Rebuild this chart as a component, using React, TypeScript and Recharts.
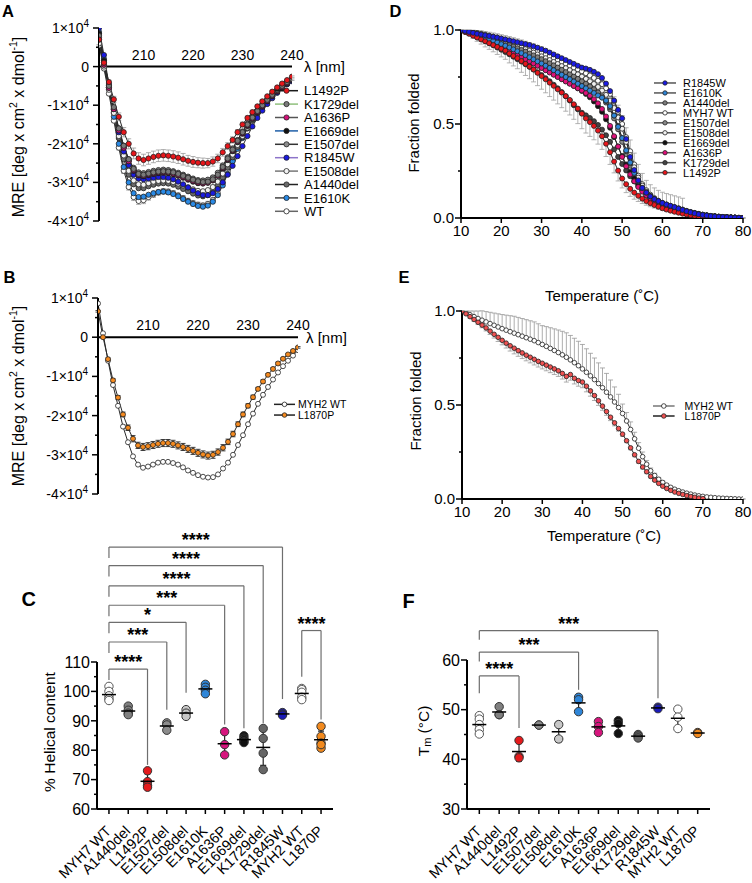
import React from "react";
import {
  LineChart,
  Line,
  XAxis,
  YAxis,
  ErrorBar,
  ReferenceLine,
  ReferenceDot,
  Legend,
  ScatterChart,
  Scatter,
} from "recharts";

const FONT = "'Liberation Sans', Arial, Helvetica, sans-serif";
const AXIS = { stroke: "#000", strokeWidth: 2 };

// x grids
const nmA = Array.from({ length: 40 }, (_, i) => 201 + i);
const nmB = Array.from({ length: 41 }, (_, i) => 200 + i);
const tempC = Array.from({ length: 71 }, (_, i) => 10 + i);

// ---------- A: CD spectra of MYH7 variants, MRE in units of 1e4
const cdL1492P = [
  0.7, 0.1, -0.4, -0.85, -1.3, -1.7, -2.0, -2.25, -2.38, -2.42,
  -2.38, -2.34, -2.31, -2.3, -2.31, -2.33, -2.36, -2.4, -2.44, -2.47,
  -2.49, -2.5, -2.5, -2.46, -2.38, -2.22, -2.06, -1.9, -1.7, -1.5,
  -1.33, -1.18, -1.03, -0.9, -0.77, -0.65, -0.54, -0.44, -0.35, -0.26,
];
const cdL1492PErr = [
  0, 0.02, 0.05, 0.08, 0.1, 0.12, 0.13, 0.14, 0.15, 0.15,
  0.15, 0.15, 0.15, 0.15, 0.15, 0.15, 0.15, 0.15, 0.14, 0.14,
  0.13, 0.13, 0.12, 0.12, 0.11, 0.1, 0.09, 0.08, 0.07, 0.06,
  0.05, 0.05, 0.04, 0.04, 0.03, 0.03, 0.03, 0.02, 0.02, 0.02,
];
const cdK1729del = [
  0.8, 0.1, -0.5, -1.05, -1.6, -2.05, -2.4, -2.65, -2.78, -2.8,
  -2.77, -2.74, -2.72, -2.71, -2.72, -2.74, -2.78, -2.83, -2.88, -2.93,
  -2.97, -2.99, -2.98, -2.92, -2.8, -2.6, -2.38, -2.15, -1.92, -1.7,
  -1.5, -1.32, -1.15, -1.0, -0.86, -0.73, -0.61, -0.5, -0.4, -0.32,
];
const cdA1636P = [
  0.75, 0.05, -0.55, -1.1, -1.65, -2.1, -2.45, -2.68, -2.8, -2.82,
  -2.79, -2.76, -2.74, -2.73, -2.74, -2.77, -2.81, -2.86, -2.91, -2.96,
  -3.0, -3.02, -3.0, -2.94, -2.82, -2.62, -2.4, -2.17, -1.94, -1.72,
  -1.52, -1.34, -1.17, -1.02, -0.88, -0.75, -0.63, -0.52, -0.42, -0.33,
];
const cdE1669del = [
  0.85, 0.15, -0.5, -1.1, -1.65, -2.1, -2.45, -2.7, -2.82, -2.84,
  -2.81, -2.78, -2.76, -2.75, -2.76, -2.79, -2.83, -2.88, -2.93, -2.98,
  -3.02, -3.03, -3.01, -2.95, -2.83, -2.64, -2.42, -2.19, -1.96, -1.74,
  -1.54, -1.36, -1.19, -1.04, -0.9, -0.77, -0.65, -0.54, -0.44, -0.35,
];
const cdE1507del = [
  0.7, 0.05, -0.55, -1.1, -1.6, -2.05, -2.4, -2.62, -2.74, -2.76,
  -2.73, -2.7, -2.68, -2.67, -2.68, -2.71, -2.75, -2.8, -2.85, -2.9,
  -2.94, -2.95, -2.93, -2.87, -2.75, -2.56, -2.35, -2.12, -1.9, -1.68,
  -1.48, -1.3, -1.14, -0.99, -0.85, -0.72, -0.6, -0.49, -0.39, -0.3,
];
const cdR1845W = [
  1.0, 0.3, -0.45, -1.1, -1.7, -2.2, -2.55, -2.8, -2.9, -2.92,
  -2.9, -2.88, -2.86, -2.86, -2.88, -2.92, -2.98, -3.05, -3.13, -3.21,
  -3.28, -3.33, -3.33, -3.28, -3.17, -3.0, -2.8, -2.57, -2.32, -2.06,
  -1.8, -1.55, -1.33, -1.14, -0.97, -0.82, -0.68, -0.56, -0.46, -0.38,
];
const cdE1508del = [
  0.6, 0.0, -0.6, -1.2, -1.8, -2.3, -2.7, -2.95, -3.05, -3.06,
  -3.02, -2.98, -2.96, -2.95, -2.96, -2.99, -3.03, -3.08, -3.13, -3.18,
  -3.22, -3.23, -3.2, -3.12, -2.98, -2.77, -2.53, -2.28, -2.03, -1.8,
  -1.58, -1.38, -1.2, -1.04, -0.9, -0.77, -0.65, -0.54, -0.44, -0.35,
];
const cdA1440del = [
  0.85, 0.15, -0.55, -1.2, -1.85, -2.4, -2.8, -3.05, -3.15, -3.15,
  -3.1, -3.06, -3.03, -3.02, -3.03, -3.06, -3.11, -3.17, -3.23, -3.29,
  -3.34, -3.36, -3.33, -3.25, -3.1, -2.88, -2.62, -2.35, -2.08, -1.83,
  -1.6, -1.4, -1.22, -1.06, -0.91, -0.78, -0.66, -0.55, -0.45, -0.36,
];
const cdE1610K = [
  0.9, 0.2, -0.55, -1.3, -2.0, -2.6, -3.0, -3.28, -3.38, -3.37,
  -3.32, -3.28, -3.25, -3.24, -3.26, -3.3, -3.36, -3.43, -3.5, -3.56,
  -3.61, -3.63, -3.6, -3.5, -3.33, -3.08, -2.78, -2.45, -2.13, -1.85,
  -1.6, -1.38, -1.19, -1.03, -0.88, -0.75, -0.63, -0.52, -0.43, -0.35,
];
const cdWT = [
  0.55, -0.05, -0.7, -1.4, -2.1, -2.7, -3.12, -3.38, -3.48, -3.46,
  -3.38, -3.31, -3.26, -3.23, -3.24, -3.28, -3.34, -3.41, -3.48, -3.54,
  -3.58, -3.6, -3.56, -3.46, -3.28, -3.02, -2.72, -2.4, -2.08, -1.8,
  -1.56, -1.35, -1.17, -1.01, -0.87, -0.74, -0.62, -0.51, -0.42, -0.34,
];
const cdWTErr = [
  0.02, 0.03, 0.04, 0.05, 0.06, 0.07, 0.08, 0.09, 0.09, 0.09,
  0.08, 0.08, 0.07, 0.07, 0.07, 0.07, 0.07, 0.07, 0.07, 0.07,
  0.07, 0.07, 0.07, 0.07, 0.06, 0.06, 0.06, 0.05, 0.05, 0.05,
  0.04, 0.04, 0.04, 0.03, 0.03, 0.03, 0.03, 0.02, 0.02, 0.02,
];

// ---------- B: CD spectra of MYH2
const cdMYH2WT = [
  0.86, 0.1, -0.6, -1.22, -1.75, -2.28, -2.68, -3.04, -3.25, -3.33,
  -3.3, -3.25, -3.2, -3.18, -3.18, -3.21, -3.25, -3.32, -3.4, -3.46,
  -3.52, -3.56, -3.58, -3.57, -3.5, -3.35, -3.2, -3.0, -2.75, -2.5,
  -2.22, -1.95, -1.7, -1.47, -1.27, -1.08, -0.9, -0.74, -0.6, -0.47,
  -0.33,
];
const cdL1870P = [
  0.66, 0.0, -0.56, -1.1, -1.54, -1.97, -2.31, -2.59, -2.76, -2.8,
  -2.78, -2.75, -2.72, -2.7, -2.7, -2.72, -2.76, -2.8, -2.85, -2.9,
  -2.95, -2.99, -3.02, -3.0, -2.93, -2.82, -2.67, -2.47, -2.22, -1.97,
  -1.75, -1.53, -1.32, -1.13, -0.96, -0.81, -0.67, -0.55, -0.44, -0.35,
  -0.26,
];
const cdL1870PErr = [
  0.02, 0.02, 0.03, 0.04, 0.05, 0.06, 0.07, 0.08, 0.08, 0.09,
  0.09, 0.09, 0.09, 0.09, 0.09, 0.09, 0.09, 0.09, 0.09, 0.09,
  0.09, 0.09, 0.09, 0.09, 0.08, 0.08, 0.07, 0.07, 0.06, 0.06,
  0.05, 0.05, 0.04, 0.04, 0.03, 0.03, 0.03, 0.02, 0.02, 0.02,
  0.02,
];

// ---------- D: thermal unfolding, MYH7 variants (fraction folded)
const meltR1845W = [
  1.0, 0.995, 0.99, 0.985, 0.98, 0.976, 0.972, 0.968, 0.964, 0.96,
  0.955, 0.95, 0.945, 0.94, 0.935, 0.93, 0.925, 0.92, 0.913, 0.906,
  0.898, 0.89, 0.88, 0.87, 0.86, 0.85, 0.84, 0.83, 0.82, 0.81,
  0.8, 0.795, 0.788, 0.778, 0.765, 0.745, 0.715, 0.675, 0.625, 0.575,
  0.53, 0.42, 0.325, 0.255, 0.2, 0.16, 0.135, 0.115, 0.1, 0.09,
  0.08, 0.072, 0.065, 0.058, 0.05, 0.043, 0.036, 0.03, 0.025, 0.02,
  0.016, 0.013, 0.01, 0.008, 0.006, 0.005, 0.004, 0.003, 0.002, 0.001,
  0.0,
];
const meltE1610K = [
  1.0, 0.993, 0.986, 0.979, 0.972, 0.965, 0.958, 0.95, 0.942, 0.934,
  0.925, 0.916, 0.907, 0.897, 0.887, 0.877, 0.866, 0.855, 0.844, 0.833,
  0.822, 0.81, 0.798, 0.786, 0.774, 0.762, 0.75, 0.738, 0.726, 0.714,
  0.702, 0.69, 0.678, 0.665, 0.652, 0.64, 0.625, 0.595, 0.545, 0.485,
  0.425, 0.36, 0.295, 0.24, 0.195, 0.16, 0.135, 0.115, 0.1, 0.088,
  0.078, 0.069, 0.061, 0.054, 0.047, 0.041, 0.035, 0.03, 0.025, 0.021,
  0.017, 0.014, 0.011, 0.009, 0.007, 0.005, 0.004, 0.003, 0.002, 0.001,
  0.0,
];
const meltA1440del = [
  1.0, 0.995, 0.99, 0.984, 0.978, 0.972, 0.965, 0.958, 0.951, 0.944,
  0.936, 0.928, 0.92, 0.912, 0.903, 0.894, 0.885, 0.875, 0.865, 0.855,
  0.845, 0.834, 0.823, 0.812, 0.8, 0.788, 0.776, 0.764, 0.752, 0.74,
  0.727, 0.714, 0.7, 0.685, 0.668, 0.648, 0.622, 0.588, 0.545, 0.49,
  0.425, 0.355, 0.29, 0.235, 0.19, 0.155, 0.128, 0.107, 0.091, 0.078,
  0.068, 0.06, 0.053, 0.047, 0.041, 0.036, 0.031, 0.027, 0.023, 0.019,
  0.016, 0.013, 0.01, 0.008, 0.006, 0.005, 0.004, 0.003, 0.002, 0.001,
  0.0,
];
const meltMYH7WT = [
  1.0, 0.997, 0.993, 0.989, 0.985, 0.98, 0.975, 0.97, 0.965, 0.96,
  0.954, 0.948, 0.942, 0.935, 0.928, 0.921, 0.913, 0.905, 0.897, 0.888,
  0.879, 0.87, 0.86, 0.85, 0.84, 0.83, 0.82, 0.81, 0.8, 0.79,
  0.78, 0.77, 0.758, 0.745, 0.73, 0.712, 0.69, 0.66, 0.62, 0.565,
  0.5, 0.43, 0.355, 0.285, 0.225, 0.18, 0.148, 0.124, 0.106, 0.092,
  0.081, 0.072, 0.064, 0.057, 0.05, 0.044, 0.038, 0.032, 0.027, 0.022,
  0.018, 0.014, 0.011, 0.009, 0.007, 0.005, 0.004, 0.003, 0.002, 0.001,
  0.0,
];
const meltE1507del = [
  1.0, 0.994, 0.988, 0.982, 0.975, 0.968, 0.961, 0.954, 0.946, 0.938,
  0.93, 0.922, 0.913, 0.904, 0.895, 0.885, 0.875, 0.865, 0.855, 0.844,
  0.833, 0.822, 0.811, 0.8, 0.789, 0.778, 0.767, 0.756, 0.745, 0.734,
  0.722, 0.71, 0.697, 0.682, 0.664, 0.642, 0.614, 0.578, 0.53, 0.472,
  0.405, 0.34, 0.278, 0.225, 0.182, 0.148, 0.122, 0.102, 0.087, 0.075,
  0.066, 0.058, 0.051, 0.045, 0.04, 0.035, 0.03, 0.026, 0.022, 0.018,
  0.015, 0.012, 0.01, 0.008, 0.006, 0.004, 0.003, 0.002, 0.001, 0.001,
  0.0,
];
const meltE1508del = [
  1.0, 0.996, 0.991, 0.986, 0.981, 0.976, 0.97, 0.964, 0.958, 0.952,
  0.945, 0.938, 0.931, 0.923, 0.915, 0.907, 0.898, 0.889, 0.88, 0.87,
  0.86, 0.85, 0.84, 0.83, 0.819, 0.808, 0.797, 0.786, 0.775, 0.764,
  0.752, 0.74, 0.727, 0.713, 0.697, 0.678, 0.655, 0.625, 0.585, 0.535,
  0.475, 0.405, 0.335, 0.27, 0.215, 0.172, 0.14, 0.117, 0.1, 0.087,
  0.077, 0.07, 0.064, 0.058, 0.052, 0.045, 0.036, 0.03, 0.025, 0.02,
  0.016, 0.013, 0.01, 0.008, 0.006, 0.005, 0.004, 0.003, 0.002, 0.001,
  0.0,
];
const meltE1508delErr = [
  0, 0.005, 0.01, 0.013, 0.016, 0.02, 0.022, 0.024, 0.026, 0.028,
  0.03, 0.032, 0.034, 0.036, 0.038, 0.04, 0.042, 0.044, 0.046, 0.048,
  0.05, 0.05, 0.05, 0.05, 0.05, 0.05, 0.05, 0.05, 0.05, 0.05,
  0.05, 0.05, 0.05, 0.05, 0.05, 0.05, 0.05, 0.055, 0.06, 0.065,
  0.07, 0.075, 0.08, 0.075, 0.07, 0.065, 0.06, 0.06, 0.06, 0.06,
  0.06, 0.06, 0.06, 0.06, 0.06, 0.06, 0.01, 0.008, 0.006, 0.005,
  0.004, 0.003, 0.002, 0.001, 0, 0, 0, 0, 0, 0,
  0,
];
const meltE1669del = [
  1.0, 0.993, 0.985, 0.977, 0.969, 0.96, 0.951, 0.942, 0.932, 0.922,
  0.912, 0.902, 0.891, 0.88, 0.869, 0.858, 0.847, 0.836, 0.824, 0.812,
  0.8, 0.788, 0.776, 0.764, 0.752, 0.74, 0.728, 0.716, 0.703, 0.69,
  0.676, 0.66, 0.642, 0.62, 0.595, 0.565, 0.525, 0.48, 0.43, 0.38,
  0.33, 0.285, 0.245, 0.21, 0.18, 0.155, 0.134, 0.116, 0.101, 0.088,
  0.077, 0.068, 0.06, 0.053, 0.047, 0.041, 0.035, 0.03, 0.025, 0.021,
  0.017, 0.014, 0.011, 0.009, 0.007, 0.005, 0.004, 0.003, 0.002, 0.001,
  0.0,
];
const meltA1636P = [
  1.0, 0.992, 0.984, 0.976, 0.968, 0.959, 0.95, 0.94, 0.93, 0.92,
  0.91, 0.9, 0.889, 0.878, 0.867, 0.856, 0.845, 0.834, 0.822, 0.81,
  0.798, 0.786, 0.774, 0.762, 0.75, 0.738, 0.726, 0.714, 0.702, 0.69,
  0.678, 0.665, 0.65, 0.632, 0.61, 0.58, 0.54, 0.49, 0.435, 0.38,
  0.325, 0.275, 0.232, 0.195, 0.165, 0.14, 0.12, 0.103, 0.089, 0.077,
  0.067, 0.058, 0.05, 0.043, 0.037, 0.031, 0.026, 0.022, 0.018, 0.015,
  0.012, 0.01, 0.008, 0.006, 0.005, 0.004, 0.003, 0.002, 0.001, 0.0,
  0.0,
];
const meltK1729del = [
  1.0, 0.991, 0.982, 0.972, 0.962, 0.952, 0.941, 0.93, 0.919, 0.907,
  0.895, 0.883, 0.871, 0.858, 0.845, 0.832, 0.818, 0.804, 0.79, 0.775,
  0.76, 0.744, 0.727, 0.709, 0.69, 0.67, 0.648, 0.625, 0.6, 0.578,
  0.56, 0.546, 0.532, 0.515, 0.495, 0.47, 0.44, 0.405, 0.365, 0.325,
  0.287, 0.253, 0.222, 0.195, 0.17, 0.148, 0.129, 0.112, 0.097, 0.084,
  0.073, 0.063, 0.055, 0.048, 0.042, 0.036, 0.031, 0.026, 0.022, 0.018,
  0.015, 0.012, 0.009, 0.007, 0.005, 0.004, 0.003, 0.002, 0.001, 0.0,
  0.0,
];
const meltL1492P = [
  1.0, 0.99, 0.98, 0.97, 0.96, 0.95, 0.94, 0.93, 0.92, 0.91,
  0.9, 0.89, 0.875, 0.862, 0.85, 0.835, 0.82, 0.805, 0.79, 0.772,
  0.755, 0.738, 0.72, 0.703, 0.685, 0.667, 0.648, 0.628, 0.605, 0.582,
  0.555, 0.53, 0.51, 0.49, 0.465, 0.435, 0.395, 0.35, 0.3, 0.252,
  0.21, 0.18, 0.155, 0.135, 0.118, 0.103, 0.09, 0.079, 0.069, 0.06,
  0.052, 0.045, 0.039, 0.033, 0.028, 0.023, 0.019, 0.015, 0.012, 0.009,
  0.007, 0.005, 0.004, 0.003, 0.002, 0.001, 0.0, 0.0, 0.0, 0.0,
  0.0,
];
const meltL1492PErr = [
  0, 0.005, 0.01, 0.015, 0.02, 0.025, 0.03, 0.033, 0.036, 0.04,
  0.043, 0.046, 0.05, 0.053, 0.056, 0.06, 0.062, 0.064, 0.066, 0.068,
  0.07, 0.072, 0.074, 0.076, 0.078, 0.08, 0.08, 0.08, 0.08, 0.08,
  0.08, 0.078, 0.076, 0.074, 0.072, 0.07, 0.068, 0.065, 0.06, 0.055,
  0.05, 0.045, 0.04, 0.035, 0.03, 0.026, 0.022, 0.019, 0.016, 0.013,
  0.011, 0.009, 0.007, 0.006, 0.005, 0.004, 0.003, 0.002, 0.002, 0.001,
  0.001, 0, 0, 0, 0, 0, 0, 0, 0, 0,
  0,
];

// ---------- E: thermal unfolding, MYH2
const meltMYH2WT = [
  1.0, 0.99, 0.98, 0.97, 0.96, 0.951, 0.942, 0.933, 0.924, 0.915,
  0.906, 0.898, 0.89, 0.882, 0.874, 0.866, 0.858, 0.85, 0.842, 0.832,
  0.822, 0.812, 0.801, 0.79, 0.779, 0.767, 0.754, 0.74, 0.725, 0.709,
  0.692, 0.674, 0.655, 0.635, 0.614, 0.592, 0.568, 0.543, 0.516, 0.487,
  0.455, 0.415, 0.37, 0.32, 0.27, 0.225, 0.185, 0.15, 0.125, 0.105,
  0.088, 0.074, 0.062, 0.052, 0.044, 0.037, 0.031, 0.026, 0.021, 0.017,
  0.014, 0.011, 0.009, 0.007, 0.005, 0.004, 0.003, 0.002, 0.001, 0.0,
  0.0,
];
const meltMYH2WTErr = [
  0, 0.01, 0.02, 0.03, 0.04, 0.05, 0.055, 0.06, 0.065, 0.07,
  0.075, 0.08, 0.085, 0.09, 0.092, 0.094, 0.096, 0.098, 0.1, 0.1,
  0.1, 0.105, 0.11, 0.115, 0.12, 0.125, 0.13, 0.13, 0.13, 0.13,
  0.13, 0.125, 0.12, 0.115, 0.11, 0.105, 0.1, 0.09, 0.08, 0.07,
  0.05, 0.045, 0.04, 0.035, 0.03, 0.025, 0.02, 0.015, 0.012, 0.01,
  0.008, 0.006, 0.005, 0.004, 0.003, 0.002, 0.002, 0.001, 0.001, 0,
  0, 0, 0, 0, 0, 0, 0, 0, 0, 0,
  0,
];
const meltL1870P = [
  1.0, 0.985, 0.97, 0.955, 0.94, 0.925, 0.91, 0.893, 0.876, 0.86,
  0.844, 0.829, 0.815, 0.802, 0.789, 0.777, 0.765, 0.754, 0.743, 0.732,
  0.722, 0.712, 0.702, 0.692, 0.682, 0.668, 0.652, 0.662, 0.642, 0.63,
  0.622, 0.6, 0.575, 0.55, 0.522, 0.494, 0.465, 0.435, 0.405, 0.375,
  0.345, 0.31, 0.272, 0.235, 0.2, 0.17, 0.145, 0.12, 0.1, 0.083,
  0.068, 0.056, 0.046, 0.037, 0.03, 0.024, 0.018, 0.013, 0.009, 0.005,
  0.002, null, null, null, null, null, null, null, null, null,
  null,
];
const meltL1870PErr = [
  0, 0.005, 0.008, 0.01, 0.012, 0.014, 0.016, 0.018, 0.02, 0.022,
  0.024, 0.026, 0.028, 0.03, 0.03, 0.03, 0.03, 0.03, 0.03, 0.03,
  0.03, 0.03, 0.03, 0.03, 0.03, 0.03, 0.03, 0.03, 0.03, 0.03,
  0.03, 0.03, 0.028, 0.026, 0.024, 0.022, 0.02, 0.018, 0.016, 0.014,
  0.012, 0.01, 0.01, 0.01, 0.01, 0.01, 0.01, 0.008, 0.006, 0.005,
  0.004, 0.003, 0.002, 0.002, 0.001, 0.001, 0, 0, 0, 0,
  0, null, null, null, null, null, null, null, null, null,
  null,
];

// ---------- C / F: per-replicate helical content and Tm
const variantNames = [
  "MYH7 WT", "A1440del", "L1492P", "E1507del", "E1508del", "E1610K",
  "A1636P", "E1669del", "K1729del", "R1845W", "MYH2 WT", "L1870P",
];
const helicalContent = [
  [101.7, 100.0, 98.5, 97.5, 96.9],
  [95.0, 93.6, 92.6, 92.1],
  [73.0, 69.3, 68.0, 67.4],
  [89.3, 88.6, 86.8],
  [93.8, 92.6, 91.5],
  [102.4, 101.4, 100.4, 99.2],
  [86.3, 81.9, 78.4],
  [84.9, 84.1, 83.5, 82.9, 82.6],
  [87.4, 84.0, 79.0, 73.4],
  [92.8, 92.3, 91.9],
  [101.0, 100.6, 99.7, 98.0, 97.2],
  [88.1, 84.7, 82.4, 80.7, 81.9],
];
const meltingTemp = [
  [48.8, 48.1, 47.0, 46.0, 45.1],
  [50.6, 49.0, 49.0],
  [43.8, 40.6, 40.3],
  [46.9, 46.9],
  [47.0, 44.1],
  [52.5, 52.0, 49.6],
  [47.6, 46.6, 45.4],
  [47.8, 47.2, 45.2],
  [45.0, 44.7, 44.3],
  [50.5, 50.2],
  [50.1, 48.5, 46.2],
  [45.4, 45.2],
];
// significance brackets (data units)
const helicalBrackets = [
  { from: 0, to: 2, y: 107.6, left: 103.9, right: 75.0, stars: "****" },
  { from: 0, to: 3, y: 116.8, left: 113.1, right: 93.8, stars: "***" },
  { from: 0, to: 4, y: 123.5, left: 119.8, right: 99.5, stars: "*" },
  { from: 0, to: 6, y: 129.3, left: 125.6, right: 88.7, stars: "***" },
  { from: 0, to: 7, y: 135.9, left: 132.2, right: 87.5, stars: "****" },
  { from: 0, to: 8, y: 142.8, left: 139.1, right: 89.2, stars: "****" },
  { from: 0, to: 9, y: 149.1, left: 145.4, right: 97.4, stars: "****" },
  { from: 10, to: 11, y: 120.7, left: 105.0, right: 90.4, stars: "****" },
];
const tmBrackets = [
  { from: 0, to: 2, y: 56.8, left: 53.3, right: 46.3, stars: "****" },
  { from: 0, to: 5, y: 61.6, left: 59.7, right: 54.0, stars: "***" },
  { from: 0, to: 9, y: 65.9, left: 64.1, right: 52.3, stars: "***" },
];

const mreTicks = [-4, -3.5, -3, -2.5, -2, -1.5, -1, -0.5, 0, 0.5, 1];
const nmTicks = [210, 220, 230, 240];
const fracTicks = [0, 0.25, 0.5, 0.75, 1];
const tempTicks = [10, 20, 30, 40, 50, 60, 70, 80];
const helicalTicks = [60, 65, 70, 75, 80, 85, 90, 95, 100, 105, 110];
const tmTicks = [30, 35, 40, 45, 50, 55, 60];
const variantIdx = variantNames.map((_, i) => i);

// styles
const seriesA = [
  { id: "L1492P", values: cdL1492P, err: cdL1492PErr, fill: "#e8161b", line: "#1a1a1a" },
  { id: "K1729del", values: cdK1729del, fill: "#7a7a7a", line: "#8fc07c" },
  { id: "A1636P", values: cdA1636P, fill: "#d4127a", line: "#555" },
  { id: "E1669del", values: cdE1669del, fill: "#111", line: "#1f5fa8" },
  { id: "E1507del", values: cdE1507del, fill: "#8c8c8c", line: "#333" },
  { id: "R1845W", values: cdR1845W, fill: "#1a1ae0", line: "#8d74c9" },
  { id: "E1508del", values: cdE1508del, fill: "#f2f2f2", line: "#777" },
  { id: "A1440del", values: cdA1440del, fill: "#6a6a6a", line: "#222" },
  { id: "E1610K", values: cdE1610K, fill: "#2a8ae6", line: "#444" },
  { id: "WT", values: cdWT, err: cdWTErr, fill: "#ffffff", line: "#666" },
];
const seriesB = [
  { id: "MYH2WT", label: "MYH2 WT", values: cdMYH2WT, fill: "#ffffff", line: "#222" },
  { id: "L1870P", values: cdL1870P, err: cdL1870PErr, fill: "#f58a1f", line: "#222" },
];
const seriesD = [
  { id: "R1845W", values: meltR1845W, fill: "#1a1ae6", line: "#222" },
  { id: "E1610K", values: meltE1610K, fill: "#2f86d8", line: "#222" },
  { id: "A1440del", values: meltA1440del, fill: "#7d7d7d", line: "#222" },
  { id: "MYH7WT", label: "MYH7 WT", values: meltMYH7WT, fill: "#ffffff", line: "#222" },
  { id: "E1507del", values: meltE1507del, fill: "#8a8a8a", line: "#222" },
  { id: "E1508del", values: meltE1508del, err: meltE1508delErr, errDir: "up", fill: "#f0f0f0", line: "#222" },
  { id: "E1669del", values: meltE1669del, fill: "#111", line: "#222" },
  { id: "A1636P", values: meltA1636P, fill: "#e0107a", line: "#222" },
  { id: "K1729del", values: meltK1729del, fill: "#444", line: "#222" },
  { id: "L1492P", values: meltL1492P, err: meltL1492PErr, errDir: "down", fill: "#e8161b", line: "#222" },
];
const drawOrderD = ["MYH7WT", "E1507del", "E1508del", "A1440del", "K1729del", "E1669del", "A1636P", "E1610K", "L1492P", "R1845W"];
const seriesE = [
  { id: "MYH2WT", label: "MYH2 WT", values: meltMYH2WT, err: meltMYH2WTErr, errDir: "up", fill: "#ffffff", line: "#777" },
  { id: "L1870P", values: meltL1870P, err: meltL1870PErr, errDir: "down", fill: "#f05252", line: "#222" },
];
const variantFill = [
  "#ffffff", "#808080", "#e41a1c", "#8c8c8c", "#c8c8c8", "#2f86d8",
  "#d6157d", "#111111", "#666666", "#1a1ab8", "#ffffff", "#f28a1e",
];

function buildRows(xKey: string, xs: number[], series: any[]) {
  return xs.map((x, i) => {
    const row: any = { [xKey]: x };
    series.forEach((s) => {
      row[s.id] = s.values[i];
      if (s.err) {
        const e = s.err[i];
        row[s.id + "Err"] = e == null ? null : s.errDir === "up" ? [0, e] : s.errDir === "down" ? [e, 0] : e;
      }
    });
    return row;
  });
}

const rowsA = buildRows("nm", nmA, seriesA);
const rowsB = buildRows("nm", nmB, seriesB);
const rowsD = buildRows("t", tempC, seriesD);
const rowsE = buildRows("t", tempC, seriesE);

function meanSd(vals: number[]) {
  const m = vals.reduce((a, b) => a + b, 0) / vals.length;
  const sd = vals.length > 1 ? Math.sqrt(vals.reduce((a, b) => a + (b - m) ** 2, 0) / (vals.length - 1)) : 0;
  return { m, sd };
}

// ---------- ticks
function MreTick({ x, y, payload }: any) {
  const v = payload.value;
  const major = Number.isInteger(v);
  return (
    <g>
      <line x1={x - (major ? 6 : 3)} x2={x} y1={y} y2={y} stroke="#000" strokeWidth={1.5} />
      {major && (
        <text x={x - 10} y={y} dy="0.36em" textAnchor="end" fontSize={14} fontFamily={FONT} fill="#000">
          {v === 0 ? "0" : (
            <>
              {`${v}×10`}
              <tspan dy={-6} fontSize={10}>4</tspan>
            </>
          )}
        </text>
      )}
    </g>
  );
}

function FractionTick({ x, y, payload }: any) {
  const v = payload.value;
  const major = Math.abs(v * 2 - Math.round(v * 2)) < 1e-6;
  return (
    <g>
      <line x1={x - (major ? 6 : 3)} x2={x} y1={y} y2={y} stroke="#000" strokeWidth={1.5} />
      {major && (
        <text x={x - 7} y={y} dy="0.36em" textAnchor="end" fontSize={15} fontFamily={FONT} fill="#000">
          {v.toFixed(1)}
        </text>
      )}
    </g>
  );
}

function ScaleTick({ x, y, payload }: any) {
  const v = payload.value;
  const major = v % 10 === 0;
  return (
    <g>
      <line x1={x - (major ? 6 : 3)} x2={x} y1={y} y2={y} stroke="#000" strokeWidth={1.5} />
      {major && (
        <text x={x - 7} y={y} dy="0.36em" textAnchor="end" fontSize={16} fontFamily={FONT} fill="#000">
          {v}
        </text>
      )}
    </g>
  );
}

function VariantTick({ x, y, payload }: any) {
  const name = variantNames[payload.value];
  const ax = x + 3;
  const ay = y + 23;
  return (
    <g>
      <line x1={x} x2={x} y1={y} y2={y + 5} stroke="#000" strokeWidth={1.5} />
      <text x={ax} y={ay} textAnchor="end" transform={`rotate(-45 ${ax} ${ay})`} fontSize={14.5} fontFamily={FONT} fill="#000">
        {name}
      </text>
    </g>
  );
}

function SeriesKey({ items, rowH, lineW, gap, fontSize, r, lineStroke }: any) {
  const h = items.length * rowH + 2;
  return (
    <svg width={100} height={h} style={{ display: "block", overflow: "visible" }}>
      {items.map((s: any, i: number) => {
        const cy = i * rowH + rowH / 2;
        return (
          <g key={s.id}>
            <line x1={0} x2={lineW} y1={cy} y2={cy} stroke={lineStroke || s.line} strokeWidth={1.5} />
            <circle cx={lineW / 2} cy={cy} r={r} fill={s.fill} stroke="#222" strokeWidth={0.8} />
            <text x={lineW + gap} y={cy} dy="0.36em" fontSize={fontSize} fontFamily={FONT} fill="#000">
              {s.label || s.id}
            </text>
          </g>
        );
      })}
    </svg>
  );
}

function seriesLine(s: any, r: number, errColor: string) {
  return (
    <Line
      key={s.id}
      dataKey={s.id}
      type="linear"
      stroke="#2a2a2a"
      strokeWidth={1}
      dot={{ r, fill: s.fill, stroke: "#222", strokeWidth: 0.8 }}
      activeDot={false}
      isAnimationActive={false}
      connectNulls={false}
    >
      {s.err ? <ErrorBar dataKey={s.id + "Err"} direction="y" width={2.5} stroke={errColor} strokeWidth={0.8} /> : null}
    </Line>
  );
}

function bracketLines(list: any[], prefix: string) {
  const style = { stroke: "#6e6e6e", strokeWidth: 1.2, ifOverflow: "visible" as const };
  return list.flatMap((b, i) => [
    <ReferenceLine key={`${prefix}l${i}`} segment={[{ x: b.from, y: b.left }, { x: b.from, y: b.y }]} {...style} />,
    <ReferenceLine
      key={`${prefix}h${i}`}
      segment={[{ x: b.from, y: b.y }, { x: b.to, y: b.y }]}
      {...style}
      label={{ value: b.stars, position: "top", offset: 1, fontSize: 18, fontWeight: "bold", fill: "#000", fontFamily: FONT }}
    />,
    <ReferenceLine key={`${prefix}r${i}`} segment={[{ x: b.to, y: b.y }, { x: b.to, y: b.right }]} {...style} />,
  ]);
}

function MeanBar(p: any) {
  return <line x1={p.cx - 7} x2={p.cx + 7} y1={p.cy} y2={p.cy} stroke="#000" strokeWidth={1.5} />;
}

function DotPlot({ values, brackets, domain, ticks, prefix, width, height, margin, yWidth }: any) {
  const means = values.map((v: number[], i: number) => {
    const { m, sd } = meanSd(v);
    return { x: i, y: m, sd };
  });
  return (
    <ScatterChart width={width} height={height} margin={margin}>
      <XAxis
        type="number"
        dataKey="x"
        domain={[-0.62, 11.62]}
        ticks={variantIdx}
        interval={0}
        height={74}
        tickSize={0}
        tickMargin={0}
        tickLine={false}
        axisLine={AXIS}
        tick={<VariantTick />}
        allowDataOverflow
      />
      <YAxis
        type="number"
        dataKey="y"
        domain={domain}
        ticks={ticks}
        interval={0}
        width={yWidth}
        tickSize={0}
        tickMargin={0}
        tickLine={false}
        axisLine={AXIS}
        tick={<ScaleTick />}
        allowDataOverflow
      />
      {bracketLines(brackets, prefix)}
      {values.map((v: number[], i: number) => (
        <Scatter
          key={variantNames[i]}
          data={v.map((y) => ({ x: i, y }))}
          isAnimationActive={false}
          shape={(p: any) => (
            <circle cx={p.cx} cy={p.cy} r={4.2} fill={variantFill[i]} stroke={variantFill[i] === "#ffffff" ? "#555" : "#333"} strokeWidth={1} />
          )}
        />
      ))}
      <Scatter data={means} isAnimationActive={false} shape={<MeanBar />}>
        <ErrorBar dataKey="sd" direction="y" width={3} stroke="#222" strokeWidth={1.2} />
      </Scatter>
    </ScatterChart>
  );
}

export default function App() {
  const legendBox = { layout: "vertical" as const, align: "center" as const, verticalAlign: "middle" as const };
  return (
    <div style={{ position: "absolute", left: 0, top: 0, width: 752, height: 883, background: "#fff", fontFamily: FONT }}>
      {/* A */}
      <div style={{ position: "absolute", left: 0, top: 0 }}>
        <LineChart width={376} height={240} data={rowsA} margin={{ top: 28, right: 84, bottom: 19, left: 0 }}>
          <XAxis type="number" dataKey="nm" domain={[201, 240]} hide allowDataOverflow />
          <YAxis
            type="number"
            domain={[-4, 1]}
            ticks={mreTicks}
            interval={0}
            width={99}
            tickSize={0}
            tickMargin={0}
            tickLine={false}
            axisLine={AXIS}
            tick={<MreTick />}
            allowDataOverflow
          />
          <ReferenceLine y={0} stroke="#000" strokeWidth={2} />
          {nmTicks.map((v) => (
            <ReferenceDot key={v} x={v} y={0} r={0} stroke="none" fill="none"
              label={{ value: v, position: "top", offset: 7, fontSize: 14, fill: "#000", fontFamily: FONT }} />
          ))}
          <ReferenceDot x={240} y={0} r={0} stroke="none" fill="none"
            label={{ value: "λ [nm]", position: "right", offset: 12, fontSize: 15, fill: "#000", fontFamily: FONT }} />
          <Legend {...legendBox} wrapperStyle={{ left: 275, top: 84, width: 100, height: 140 }}
            content={() => <SeriesKey items={seriesA} rowH={13.4} lineW={23} gap={6} fontSize={13} r={2.6} />} />
          {[...seriesA].reverse().map((s) => seriesLine(s, 2.6, "#9a9a9a"))}
        </LineChart>
      </div>

      {/* B */}
      <div style={{ position: "absolute", left: 0, top: 250 }}>
        <LineChart width={376} height={255} data={rowsB} margin={{ top: 48, right: 78, bottom: 11, left: 0 }}>
          <XAxis type="number" dataKey="nm" domain={[200, 240]} hide allowDataOverflow />
          <YAxis
            type="number"
            domain={[-4, 1]}
            ticks={mreTicks}
            interval={0}
            width={98}
            tickSize={0}
            tickMargin={0}
            tickLine={false}
            axisLine={AXIS}
            tick={<MreTick />}
            allowDataOverflow
          />
          <ReferenceLine y={0} stroke="#000" strokeWidth={2} />
          {nmTicks.map((v) => (
            <ReferenceDot key={v} x={v} y={0} r={0} stroke="none" fill="none"
              label={{ value: v, position: "top", offset: 7, fontSize: 14, fill: "#000", fontFamily: FONT }} />
          ))}
          <ReferenceDot x={240} y={0} r={0} stroke="none" fill="none"
            label={{ value: "λ [nm]", position: "right", offset: 8, fontSize: 15, fill: "#000", fontFamily: FONT }} />
          <Legend {...legendBox} wrapperStyle={{ left: 274, top: 149, width: 100, height: 24 }}
            content={() => <SeriesKey items={seriesB} rowH={10.7} lineW={21} gap={3} fontSize={10.5} r={2.3} />} />
          {seriesB.map((s) => seriesLine(s, 2.5, "#111"))}
        </LineChart>
      </div>

      {/* D */}
      <div style={{ position: "absolute", left: 376, top: 0 }}>
        <LineChart width={376} height={250} data={rowsD} margin={{ top: 30, right: 9, bottom: 0, left: 0 }}>
          <XAxis
            type="number"
            dataKey="t"
            domain={[10, 80]}
            ticks={tempTicks}
            interval={0}
            height={32}
            axisLine={AXIS}
            tickLine={{ stroke: "#000", strokeWidth: 1.5 }}
            tickSize={5}
            tickMargin={2}
            tick={{ fontSize: 15, fill: "#000", fontFamily: FONT }}
            allowDataOverflow
          />
          <YAxis
            type="number"
            domain={[0, 1]}
            ticks={fracTicks}
            interval={0}
            width={85}
            tickSize={0}
            tickMargin={0}
            tickLine={false}
            axisLine={AXIS}
            tick={<FractionTick />}
            allowDataOverflow
          />
          <Legend {...legendBox} wrapperStyle={{ left: 278, top: 77.7, width: 100, height: 104 }}
            content={() => <SeriesKey items={seriesD} rowH={9.96} lineW={22} gap={7} fontSize={11} r={2.2} lineStroke="#555" />} />
          {drawOrderD.map((id) => seriesLine(seriesD.find((s) => s.id === id), 2.5, "#a0a0a0"))}
        </LineChart>
      </div>

      {/* E */}
      <div style={{ position: "absolute", left: 376, top: 250 }}>
        <LineChart width={376} height={300} data={rowsE} margin={{ top: 61, right: 9, bottom: 0, left: 0 }}>
          <XAxis
            type="number"
            dataKey="t"
            domain={[10, 80]}
            ticks={tempTicks}
            interval={0}
            height={51}
            axisLine={AXIS}
            tickLine={{ stroke: "#000", strokeWidth: 1.5 }}
            tickSize={5}
            tickMargin={2}
            tick={{ fontSize: 15, fill: "#000", fontFamily: FONT }}
            allowDataOverflow
          />
          <YAxis
            type="number"
            domain={[0, 1]}
            ticks={fracTicks}
            interval={0}
            width={86}
            tickSize={0}
            tickMargin={0}
            tickLine={false}
            axisLine={AXIS}
            tick={<FractionTick />}
            allowDataOverflow
          />
          <Legend {...legendBox} wrapperStyle={{ left: 276.7, top: 150.7, width: 100, height: 24 }}
            content={() => <SeriesKey items={seriesE} rowH={10} lineW={21.6} gap={10} fontSize={10.5} r={2.3} />} />
          {seriesE.map((s) => seriesLine(s, 2.3, "#999"))}
        </LineChart>
      </div>

      {/* C */}
      <div style={{ position: "absolute", left: 0, top: 480 }}>
        <DotPlot
          values={helicalContent}
          brackets={helicalBrackets}
          domain={[60, 110]}
          ticks={helicalTicks}
          prefix="c"
          width={376}
          height={403}
          margin={{ top: 182, right: 43, bottom: 0, left: 0 }}
          yWidth={97}
        />
      </div>

      {/* F */}
      <div style={{ position: "absolute", left: 376, top: 480 }}>
        <DotPlot
          values={meltingTemp}
          brackets={tmBrackets}
          domain={[30, 60]}
          ticks={tmTicks}
          prefix="f"
          width={376}
          height={403}
          margin={{ top: 180, right: 42, bottom: 0, left: 0 }}
          yWidth={91}
        />
      </div>

      {/* panel letters and axis titles */}
      <svg width={752} height={883} style={{ position: "absolute", left: 0, top: 0, pointerEvents: "none" }} fontFamily={FONT}>
        <g fontWeight="bold" fill="#000">
          <text x={2} y={16.7} fontSize={16.5}>A</text>
          <text x={389.5} y={16.7} fontSize={16.5}>D</text>
          <text x={3.5} y={283.3} fontSize={16.5}>B</text>
          <text x={398.5} y={283.3} fontSize={16.5}>E</text>
          <text x={21.5} y={605.5} fontSize={20}>C</text>
          <text x={402.5} y={607.5} fontSize={20}>F</text>
        </g>
        <text transform="translate(18 127) rotate(-90)" textAnchor="middle" dominantBaseline="central" fontSize={16} fill="#000">
          MRE [deg x cm<tspan dy={-5} fontSize={10.5}>2</tspan><tspan dy={5}> x dmol</tspan><tspan dy={-5} fontSize={10.5}>-1</tspan><tspan dy={5}>]</tspan>
        </text>
        <text transform="translate(18 396) rotate(-90)" textAnchor="middle" dominantBaseline="central" fontSize={16} fill="#000">
          MRE [deg x cm<tspan dy={-5} fontSize={10.5}>2</tspan><tspan dy={5}> x dmol</tspan><tspan dy={-5} fontSize={10.5}>-1</tspan><tspan dy={5}>]</tspan>
        </text>
        <text transform="translate(413 123) rotate(-90)" textAnchor="middle" dominantBaseline="central" fontSize={15} fill="#000">
          Fraction folded
        </text>
        <text transform="translate(415 401) rotate(-90)" textAnchor="middle" dominantBaseline="central" fontSize={15} fill="#000">
          Fraction folded
        </text>
        <text x={602} y={301} textAnchor="middle" fontSize={15} fill="#000">Temperature (˚C)</text>
        <text x={604} y={541} textAnchor="middle" fontSize={15} fill="#000">Temperature (˚C)</text>
        <text transform="translate(49 732) rotate(-90)" textAnchor="middle" dominantBaseline="central" fontSize={15.5} fill="#000">
          % Helical content
        </text>
        <text transform="translate(423 731) rotate(-90)" textAnchor="middle" dominantBaseline="central" fontSize={15.5} fill="#000">
          T<tspan dy={4} fontSize={11}>m</tspan><tspan dy={-4}> (°C)</tspan>
        </text>
      </svg>
    </div>
  );
}
